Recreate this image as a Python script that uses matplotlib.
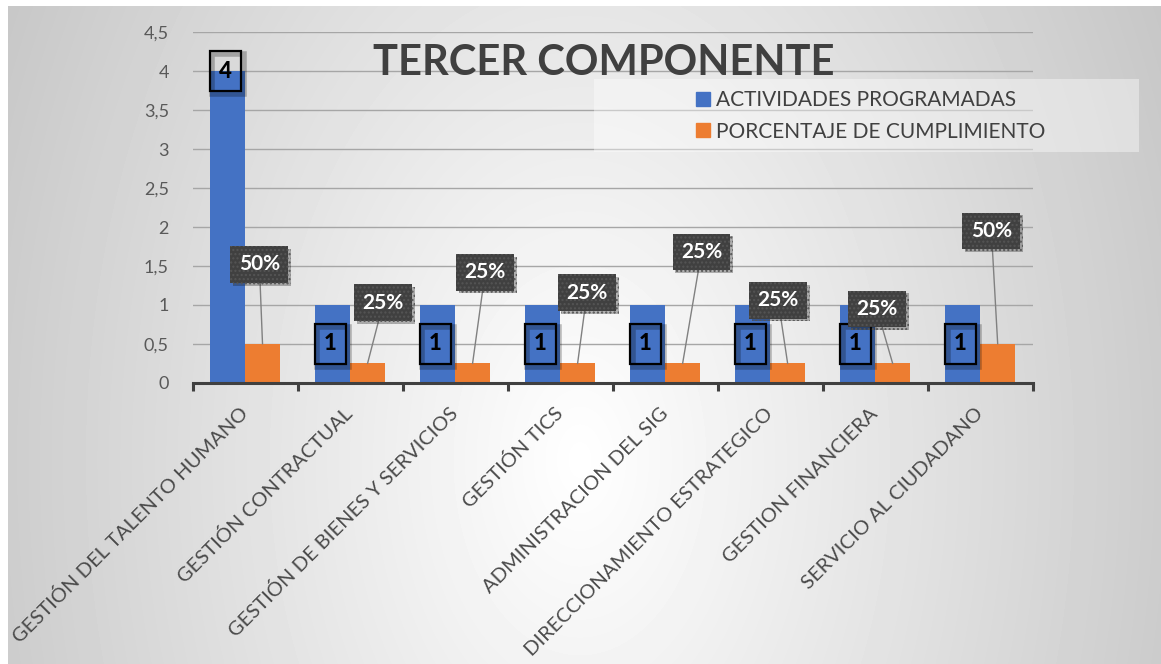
import matplotlib
matplotlib.use("Agg")
import matplotlib.pyplot as plt
import numpy as np
from matplotlib.patches import Patch, Rectangle
from matplotlib import patheffects as pe
from matplotlib.ticker import FuncFormatter

plt.rcParams['font.family'] = ['Lato', 'DejaVu Sans']

categorias = [
    "GESTIÓN DEL TALENTO HUMANO",
    "GESTIÓN CONTRACTUAL",
    "GESTIÓN DE BIENES Y SERVICIOS",
    "GESTIÓN TICS",
    "ADMINISTRACION DEL SIG",
    "DIRECCIONAMIENTO ESTRATEGICO",
    "GESTION FINANCIERA",
    "SERVICIO AL CIUDADANO",
]
actividades = [4, 1, 1, 1, 1, 1, 1, 1]
cumplimiento = [0.5, 0.25, 0.25, 0.25, 0.25, 0.25, 0.25, 0.5]

# where Excel left the percentage callouts (offset from bar, height in axis units)
pct_dx = [-0.03, 0.15, 0.12, 0.09, 0.18, -0.09, -0.15, -0.06]
pct_y = [1.52, 1.03, 1.42, 1.16, 1.68, 1.06, 0.95, 1.95]

azul = "#4472C4"
naranja = "#ED7D31"
gris_txt = "#595959"

W, H = 1161, 664
fig = plt.figure(figsize=(W / 100, H / 100), dpi=100)

# background gradient of the chart area
bg = fig.add_axes([8 / W, 0, 1 - 8 / W, 1 - 6 / H], zorder=-5)
xs = np.arange(8, W) + 0.5
ys = np.arange(6, H) + 0.5
X, Y = np.meshgrid(xs, ys)
caida = np.sqrt(((X - 580) * 0.00034) ** 2 + ((Y - 460) * 0.00022) ** 2)
bg.imshow(1 - caida, cmap="gray", vmin=0, vmax=1, aspect="auto",
          extent=(0, 1, 0, 1), origin="upper", interpolation="bilinear")
bg.axis("off")

ax = fig.add_axes([192.5 / W, 1 - 383 / H, (1032.7 - 192.5) / W, (383 - 32) / H], zorder=1)
ax.set_facecolor("none")

x = np.arange(len(categorias))
w = 1 / 3
ax.bar(x - w / 2, actividades, w, color=azul, zorder=2)
ax.bar(x + w / 2, cumplimiento, w, color=naranja, zorder=2)

ax.set_xlim(-0.5, len(categorias) - 0.5)
ax.set_ylim(0, 4.5)
ax.set_yticks(np.arange(0, 4.51, 0.5))
ax.yaxis.set_major_formatter(FuncFormatter(lambda v, p: f"{v:g}".replace(".", ",")))
ax.tick_params(axis="y", length=0, pad=17, labelsize=13, labelcolor=gris_txt)
ax.grid(axis="y", color="#a6a6a6", lw=1.0)
ax.set_axisbelow(True)
for s in ["left", "right", "top"]:
    ax.spines[s].set_visible(False)
ax.spines["bottom"].set_color("#404040")
ax.spines["bottom"].set_linewidth(2.2)

ax.set_xticks(x)
ax.set_xticklabels(categorias, rotation=45, ha="right", va="center",
                   rotation_mode="anchor", fontsize=14.5, color="#4a4a4a")
ax.tick_params(axis="x", which="major", length=0, pad=20)
ax.set_xticks(np.arange(-0.5, len(categorias), 1), minor=True)
ax.tick_params(axis="x", which="minor", length=6, width=2.2, color="#404040")

# labels on the blue bars
for i, v in enumerate(actividades):
    yy = v if v > 1 else v / 2
    t = ax.text(i - w / 2 - 0.02, yy, f"{v:g}", ha="center", va="center",
                fontsize=16, fontweight=900, color="black", zorder=4,
                bbox=dict(boxstyle="square,pad=0.42", facecolor="none",
                          edgecolor="black", lw=1.6))
    t.get_bbox_patch().set_path_effects(
        [pe.SimpleLineShadow(offset=(2, -2), shadow_color="k", alpha=0.25, linewidth=4),
         pe.Normal()])

# callouts on the orange bars
for i, v in enumerate(cumplimiento):
    a = ax.annotate(f"{v * 100:.0f}%", xy=(i + w / 2, v),
                    xytext=(i + w / 2 + pct_dx[i], pct_y[i]),
                    ha="center", va="center", fontsize=15, fontweight="bold",
                    color="white", zorder=5,
                    bbox=dict(boxstyle="square,pad=0.4", facecolor="#404040",
                              edgecolor="#555555", lw=0, hatch="...."),
                    arrowprops=dict(arrowstyle="-", color="#808080", lw=1.0,
                                    shrinkA=0, shrinkB=0))
    a.get_bbox_patch().set_path_effects(
        [pe.SimplePatchShadow(offset=(2, -2), alpha=0.3), pe.Normal()])

fig.text(604 / W, 1 - 75 / H, "TERCER COMPONENTE", fontsize=30, fontweight="bold",
         color="#404040", ha="center", va="baseline", zorder=3)

fig.add_artist(Rectangle((594 / W, 1 - 152 / H), (1139 - 594) / W, (152 - 79) / H,
                         transform=fig.transFigure, facecolor="white", alpha=0.4,
                         edgecolor="none", zorder=2))
fig.legend(handles=[Patch(color=azul, label="ACTIVIDADES PROGRAMADAS"),
                    Patch(color=naranja, label="PORCENTAJE DE CUMPLIMIENTO")],
           loc="center left", bbox_to_anchor=(696 / W, 1 - 116 / H), frameon=False,
           fontsize=15, handlelength=0.65, handleheight=0.65, handletextpad=0.3,
           labelspacing=0.55, borderpad=0, borderaxespad=0, labelcolor="#404040")

fig.savefig("out.png", dpi=100)
